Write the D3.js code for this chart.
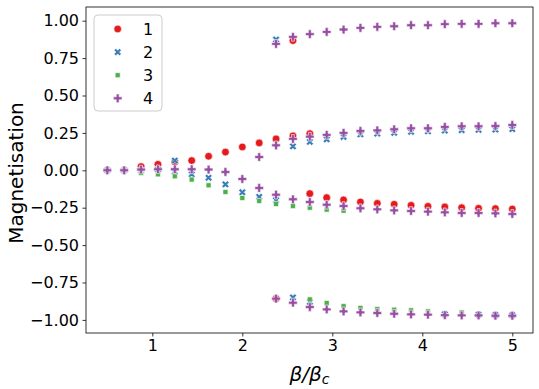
<!DOCTYPE html>
<html>
<head>
<meta charset="utf-8">
<script src="https://cdn.jsdelivr.net/npm/d3@7"></script>
<style>
  body { margin: 0; background: #fff; }
  text { font-family: 'DejaVu Sans', sans-serif; fill: #000; }
</style>
</head>
<body>
<svg id="chart"></svg>
<script>
        const N = null

        const betas = [0.5, 0.6875, 0.875, 1.0625, 1.25, 1.4375, 1.625, 1.8125, 2.0, 2.1875, 2.375, 2.5625,
            2.75, 2.9375, 3.125, 3.3125, 3.5, 3.6875, 3.875, 4.0625, 4.25, 4.4375, 4.625, 4.8125, 5.0]

        const seriesNames = ['1', '2', '3', '4']

        // each series: [upper, positive middle, negative middle, lower] branches
        const mag1 = [
            [N,N,N,N,N,N,N,N,N,N,N,0.867,N,N,N,N,N,N,N,N,N,N,N,N,N],
            [0,0,0.025,0.04,0.055,0.065,0.094,0.122,0.156,0.183,0.21,0.23,0.245,N,N,N,N,N,N,N,N,N,N,N,N],
            [N,N,N,N,N,N,N,N,N,N,N,N,-0.156,-0.183,-0.198,-0.212,-0.221,-0.227,-0.234,-0.241,-0.245,-0.25,-0.254,-0.256,-0.259],
            [N,N,N,N,N,N,N,N,N,N,-0.858,N,N,N,N,N,N,N,N,N,N,N,N,N,N]
        ]
        const mag2 = [
            [N,N,N,N,N,N,N,N,N,N,0.874,N,N,N,N,N,N,N,N,N,N,N,N,N,N],
            [N,N,N,N,0.065,N,N,N,N,N,N,0.16,0.19,0.207,0.223,0.24,0.245,0.25,0.257,0.26,0.265,0.268,0.27,0.272,0.275],
            [0,0,0,0.005,-0.01,-0.027,-0.05,-0.094,-0.147,-0.178,-0.2,N,N,N,N,N,N,N,N,N,N,N,N,N,N],
            [N,N,N,N,N,N,N,N,N,N,N,-0.85,-0.88,N,N,N,N,N,N,N,-0.962,N,-0.965,-0.967,-0.968]
        ]
        const mag3 = [
            [N,N,N,N,N,N,N,N,N,N,N,N,N,N,N,N,N,N,N,N,N,N,N,N,N],
            [N,N,N,N,N,N,N,N,N,N,N,N,N,N,N,N,N,N,N,N,N,N,N,N,N],
            [0,0,-0.018,-0.027,-0.04,-0.062,-0.1,-0.145,-0.185,-0.205,-0.225,-0.239,-0.25,-0.263,-0.27,N,N,N,N,N,N,N,N,N,N],
            [N,N,N,N,N,N,N,N,N,N,N,N,-0.863,-0.887,-0.908,-0.92,-0.928,-0.932,-0.936,-0.943,N,-0.95,N,N,N]
        ]
        const mag4 = [
            [N,N,N,N,N,N,N,N,N,N,0.845,0.892,0.91,0.925,0.941,0.952,0.959,0.963,0.97,0.97,0.977,0.979,0.979,0.983,0.983],
            [N,N,N,N,N,N,N,N,N,0.089,0.167,0.21,0.225,0.237,0.25,0.263,0.267,0.274,0.281,0.281,0.29,0.294,0.294,0.296,0.303],
            [0,0,0.005,0.007,0.007,0.007,0.005,-0.011,-0.058,-0.118,-0.163,-0.194,-0.212,-0.23,-0.239,-0.254,-0.261,-0.268,-0.272,-0.276,-0.281,-0.285,-0.285,-0.288,-0.292],
            [N,N,N,N,N,N,N,N,N,N,-0.858,-0.885,-0.914,-0.93,-0.943,-0.95,-0.954,-0.959,-0.963,-0.965,-0.968,-0.97,-0.97,-0.972,-0.972]
        ]

        const xTicks = [1, 2, 3, 4, 5]
        const yTicks = [-1, -0.75, -0.5, -0.25, 0, 0.25, 0.5, 0.75, 1]

        const colors = ['#e41a1c', '#377eb8', '#4daf4a', '#984ea3']
        const shapes = [
            {type: d3.symbolCircle, size: 46, rot: 0},
            {type: d3.symbolCross, size: 34, rot: 45},
            {type: d3.symbolSquare, size: 25, rot: 0},
            {type: d3.symbolCross, size: 42, rot: 0}
        ]

        let w = 539
        let h = 389
        let margin = {left: 86, right: 6, top: 7, bottom: 56}

        let svg = d3.select('#chart')
            .attr('width', w)
            .attr('height', h)

        let x = d3.scaleLinear([0.263, 5.23], [margin.left, w - margin.right])
        let y = d3.scaleLinear([-1.0876, 1.0916], [h - margin.bottom, margin.top])

        // points, series 1 drawn first so 4 ends on top
        let points = []
        ;[mag1, mag2, mag3, mag4].forEach((branches, s) => {
            branches.forEach(vals => {
                vals.forEach((v, i) => {
                    if (v !== null) points.push({s: s, beta: betas[i], m: v})
                })
            })
        })

        const symbolPath = s => d3.symbol().type(shapes[s].type).size(shapes[s].size)()

        svg.append('g')
            .selectAll('path')
            .data(points)
            .enter().append('path')
                .attr('d', d => symbolPath(d.s))
                .attr('transform', d => `translate(${x(d.beta)},${y(d.m)}) rotate(${shapes[d.s].rot})`)
                .attr('fill', d => colors[d.s])
                .attr('stroke', '#fff')
                .attr('stroke-width', 0.6)

        // axes
        let xAxis = svg.append('g')
            .attr('transform', `translate(0,${h - margin.bottom})`)
            .call(d3.axisBottom(x).tickValues(xTicks).tickFormat(d3.format('d'))
                .tickSizeOuter(0).tickSize(3.5).tickPadding(3.5))
        let yAxis = svg.append('g')
            .attr('transform', `translate(${margin.left},0)`)
            .call(d3.axisLeft(y).tickValues(yTicks).tickFormat(d3.format('.2f'))
                .tickSizeOuter(0).tickSize(3.5).tickPadding(3.5))

        ;[xAxis, yAxis].forEach(a => {
            a.select('.domain').remove()
            a.selectAll('line').attr('stroke', '#000').attr('stroke-width', 0.8)
            a.selectAll('text')
                .attr('font-family', 'DejaVu Sans')
                .attr('font-size', 16)
                .attr('fill', '#000')
        })

        svg.append('rect')
            .attr('x', margin.left)
            .attr('y', margin.top)
            .attr('width', w - margin.left - margin.right)
            .attr('height', h - margin.top - margin.bottom)
            .attr('fill', 'none')
            .attr('stroke', '#000')
            .attr('stroke-width', 0.8)

        svg.append('text')
            .attr('transform', `translate(23,173) rotate(-90)`)
            .attr('text-anchor', 'middle')
            .attr('font-size', 20)
            .text('Magnetisation')

        let xl = svg.append('text')
            .attr('x', (margin.left + w - margin.right) / 2)
            .attr('y', 381)
            .attr('text-anchor', 'middle')
            .attr('font-size', 20)
            .attr('font-style', 'italic')
        xl.append('tspan').text('β/β')
        xl.append('tspan').attr('font-size', 14).attr('dy', 3).text('c')

        // legend
        let legend = svg.append('g').attr('transform', 'translate(94,15)')
        legend.append('rect')
            .attr('width', 68)
            .attr('height', 96)
            .attr('rx', 4)
            .attr('fill', '#fff')
            .attr('fill-opacity', 0.8)
            .attr('stroke', '#cccccc')
            .attr('stroke-width', 1)

        let items = legend.selectAll('g.item')
            .data(seriesNames)
            .enter().append('g')
                .attr('class', 'item')
                .attr('transform', (d, i) => `translate(0,${14 + i * 23.1})`)

        items.append('path')
            .attr('d', (d, i) => symbolPath(i))
            .attr('transform', (d, i) => `translate(23.7,0) rotate(${shapes[i].rot})`)
            .attr('fill', (d, i) => colors[i])
            .attr('stroke', '#fff')
            .attr('stroke-width', 0.6)

        items.append('text')
            .attr('x', 49)
            .attr('y', 6)
            .attr('font-size', 16)
            .text(d => d)
</script>
</body>
</html>
